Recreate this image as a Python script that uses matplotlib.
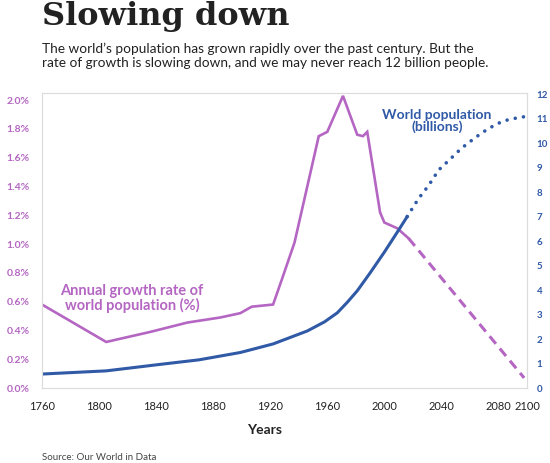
import matplotlib
matplotlib.use('Agg')
import matplotlib.pyplot as plt
import numpy as np

# Growth rate (%) - observed part
growth_years = [1760, 1805, 1836, 1862, 1885, 1899, 1907, 1922, 1928, 1937,
                1954, 1960, 1971, 1981, 1985, 1988, 1997, 2000, 2009, 2017]
growth_vals = [0.58, 0.32, 0.39, 0.455, 0.49, 0.52, 0.565, 0.58, 0.75, 1.01,
               1.75, 1.78, 2.03, 1.76, 1.75, 1.78, 1.22, 1.15, 1.11, 1.04]
# Growth rate (%) - projection
growth_proj_years = [2017, 2098]
growth_proj_vals = [1.04, 0.07]

# World population (billions) - observed
pop_years = [1760, 1805, 1845, 1870, 1899, 1922, 1946, 1958, 1967, 1974,
             1981, 1990, 2000, 2010, 2016]
pop_vals = [0.57, 0.7, 0.98, 1.15, 1.45, 1.8, 2.33, 2.7, 3.07, 3.5,
            3.97, 4.7, 5.55, 6.45, 7.0]
# World population (billions) - projection
pop_proj_years = [2016, 2024, 2031, 2038, 2046, 2054, 2064, 2073, 2083, 2090, 2100]
pop_proj_vals = [7.0, 7.74, 8.27, 8.9, 9.34, 9.79, 10.24, 10.6, 10.9, 11.0, 11.1]

x_ticks = [1760, 1800, 1840, 1880, 1920, 1960, 2000, 2040, 2080, 2100]
left_ticks = np.arange(0, 2.01, 0.2)
right_ticks = list(range(0, 13))

purple = '#b466c2'
blue = '#3059a6'
frame = '#dcdcdc'

fig = plt.figure(figsize=(5.5, 4.63), dpi=100)
ax = fig.add_axes([42 / 550, 75 / 463, 485 / 550, 295 / 463])
ax2 = ax.twinx()

ax.plot(growth_years, growth_vals, color=purple, lw=1.9, solid_joinstyle='miter')
ax.plot(growth_proj_years, growth_proj_vals, color=purple, lw=2.2,
        linestyle=(0, (3.2, 2.0)))
ax2.plot(pop_years, pop_vals, color=blue, lw=2.2)
ax2.plot(pop_proj_years, pop_proj_vals, color=blue, lw=2.6,
         linestyle=(0, (0.01, 2.3)), dash_capstyle='round')

ax.set_xlim(1760, 2100)
ax.set_ylim(0, 2.05)
ax2.set_ylim(0, 12.05)

ax.set_xticks(x_ticks)
ax.set_xticklabels([str(t) for t in x_ticks], fontsize=8, color='#222222',
                   family=['Lato', 'DejaVu Sans'])
ax.set_yticks(left_ticks)
ax.set_yticklabels([f'{v:.1f}%' for v in left_ticks], fontsize=7.5, color=purple,
                   family=['Lato', 'DejaVu Sans'], fontweight='bold')
ax2.set_yticks(right_ticks)
ax2.set_yticklabels([str(v) for v in right_ticks], fontsize=7, color=blue,
                    family=['Lato', 'DejaVu Sans'], fontweight='bold')

ax.tick_params(axis='both', length=0, pad=9)
ax2.tick_params(axis='y', length=0, pad=7)
for a in (ax, ax2):
    for s in a.spines.values():
        s.set_color(frame)
        s.set_linewidth(0.8)

ax.text(1823, 0.62, 'Annual growth rate of\nworld population (%)', color=purple,
        fontsize=10.5, fontweight='bold', ha='center', va='center',
        family=['Lato', 'DejaVu Sans'], linespacing=1.0)
ax2.text(2037, 10.9, 'World population\n(billions)', color=blue,
         fontsize=10, fontweight='bold', ha='center', va='center',
         family=['Lato', 'DejaVu Sans'], linespacing=1.0)

fig.text(42 / 550, 1 - 16 / 463, 'Slowing down', fontsize=23, fontweight='bold',
         family=['DejaVu Serif'], color='#222222', va='center', ha='left')
fig.text(42 / 550, 1 - 56 / 463,
         'The world\u2019s population has grown rapidly over the past century. But the\n'
         'rate of growth is slowing down, and we may never reach 12 billion people.',
         fontsize=9.8, family=['Lato', 'DejaVu Sans'], color='#222222',
         va='center', ha='left', linespacing=1.25)
fig.text(265 / 550, 1 - 430 / 463, 'Years', fontsize=10, fontweight='bold',
         family=['Lato', 'DejaVu Sans'], color='#222222', ha='center', va='center')
fig.text(42 / 550, 1 - 457 / 463, 'Source: Our World in Data', fontsize=7,
         family=['Lato', 'DejaVu Sans'], color='#444444',
         ha='left', va='center')

fig.savefig('out.png', dpi=100, facecolor='white')
